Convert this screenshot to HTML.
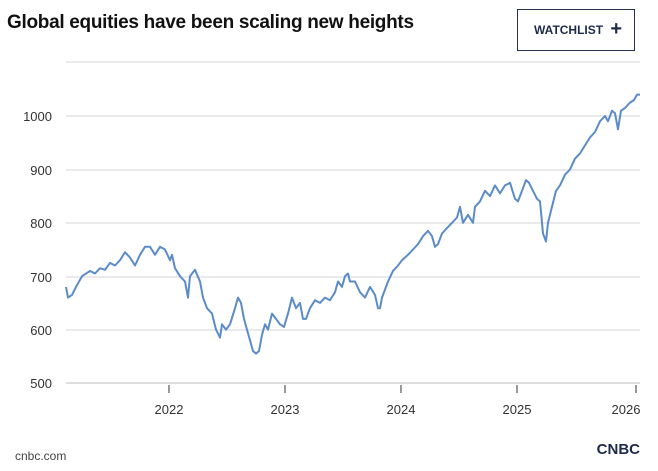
<!DOCTYPE html>
<html><head><meta charset="utf-8"><style>
body{margin:0;background:#fff;width:658px;height:471px;overflow:hidden;font-family:"Liberation Sans",sans-serif}
.t{position:absolute;left:7px;top:12px;font-size:19px;font-weight:bold;color:#111;letter-spacing:-0.3px}
.btn{position:absolute;left:517px;top:9px;width:118px;height:42px;border:1px solid #2a3050;box-sizing:border-box;font-size:12px;font-weight:bold;color:#1f2a4a;line-height:40px;padding-left:16px}
.btn span{font-size:20px;position:absolute;right:12px;top:-1px}
svg{position:absolute;left:0;top:0}
</style></head><body>
<div class="t">Global equities have been scaling new heights</div>
<div class="btn">WATCHLIST<span>+</span></div>
<svg width="658" height="471" font-family="Liberation Sans, sans-serif">
<g stroke="#e3e3e3" stroke-width="1.5">
<line x1="66" x2="640" y1="62" y2="62"/><line x1="66" x2="640" y1="116" y2="116"/><line x1="66" x2="640" y1="170" y2="170"/><line x1="66" x2="640" y1="223" y2="223"/><line x1="66" x2="640" y1="277" y2="277"/><line x1="66" x2="640" y1="330" y2="330"/><line x1="66" x2="640" y1="383" y2="383" stroke="#ddd" stroke-width="2"/>
</g>
<g font-size="13" fill="#333" text-anchor="end">
<text x="52" y="121">1000</text><text x="52" y="175">900</text><text x="52" y="228">800</text><text x="52" y="282">700</text><text x="52" y="335">600</text><text x="52" y="388">500</text>
</g>
<g stroke="#333" stroke-width="1"><line x1="169" x2="169" y1="385" y2="393"/><line x1="285" x2="285" y1="385" y2="393"/><line x1="401" x2="401" y1="385" y2="393"/><line x1="517" x2="517" y1="385" y2="393"/><line x1="636" x2="636" y1="385" y2="393"/></g>
<g font-size="13" fill="#333" text-anchor="middle">
<text x="169" y="414">2022</text><text x="285" y="414">2023</text><text x="401" y="414">2024</text><text x="517" y="414">2025</text><text x="626" y="414">2026</text>
</g>
<polyline id="p" fill="none" stroke="#5b8cc8" stroke-width="2" stroke-linejoin="round"/>
<text x="15" y="460" font-size="12" fill="#444">cnbc.com</text>
<text x="640" y="454" font-size="15" font-weight="bold" fill="#1f2a4a" text-anchor="end">CNBC</text>
</svg>
<script>
var d=[66,680,68,660,72,665,76,680,82,700,90,710,95,705,100,715,105,712,110,725,115,720,120,730,125,745,130,735,135,720,140,740,145,755,150,755,155,740,160,755,165,750,170,730,172,740,175,715,180,700,185,690,188,660,190,700,195,712,200,690,203,660,207,640,212,630,216,600,220,585,222,610,226,600,230,610,235,640,238,660,241,650,244,620,247,600,250,580,253,560,256,555,259,560,262,590,265,610,268,600,272,630,276,620,280,610,284,605,288,630,292,660,296,640,300,650,303,620,306,620,310,640,315,655,320,650,325,660,330,655,335,670,338,690,342,680,345,700,348,705,350,690,355,690,360,670,365,660,370,680,375,665,378,640,380,640,382,660,388,690,393,710,398,720,402,730,408,740,413,750,418,760,423,775,428,785,432,775,435,755,438,760,442,780,447,790,452,800,457,810,460,830,463,800,468,815,473,800,475,830,480,840,485,860,490,850,495,870,500,855,505,870,510,875,515,845,518,840,522,860,526,880,529,875,533,860,537,845,540,840,543,780,546,765,548,800,552,830,556,860,560,870,565,890,570,900,575,920,580,930,585,945,590,960,595,970,600,990,605,1000,608,990,612,1010,615,1005,618,975,621,1010,625,1015,630,1025,634,1030,637,1040,640,1040];
var s=[];for(var i=0;i<d.length;i+=2)s.push(d[i]+","+(383-(d[i+1]-500)*0.534).toFixed(1));
document.getElementById("p").setAttribute("points",s.join(" "));
</script>
</body></html>
